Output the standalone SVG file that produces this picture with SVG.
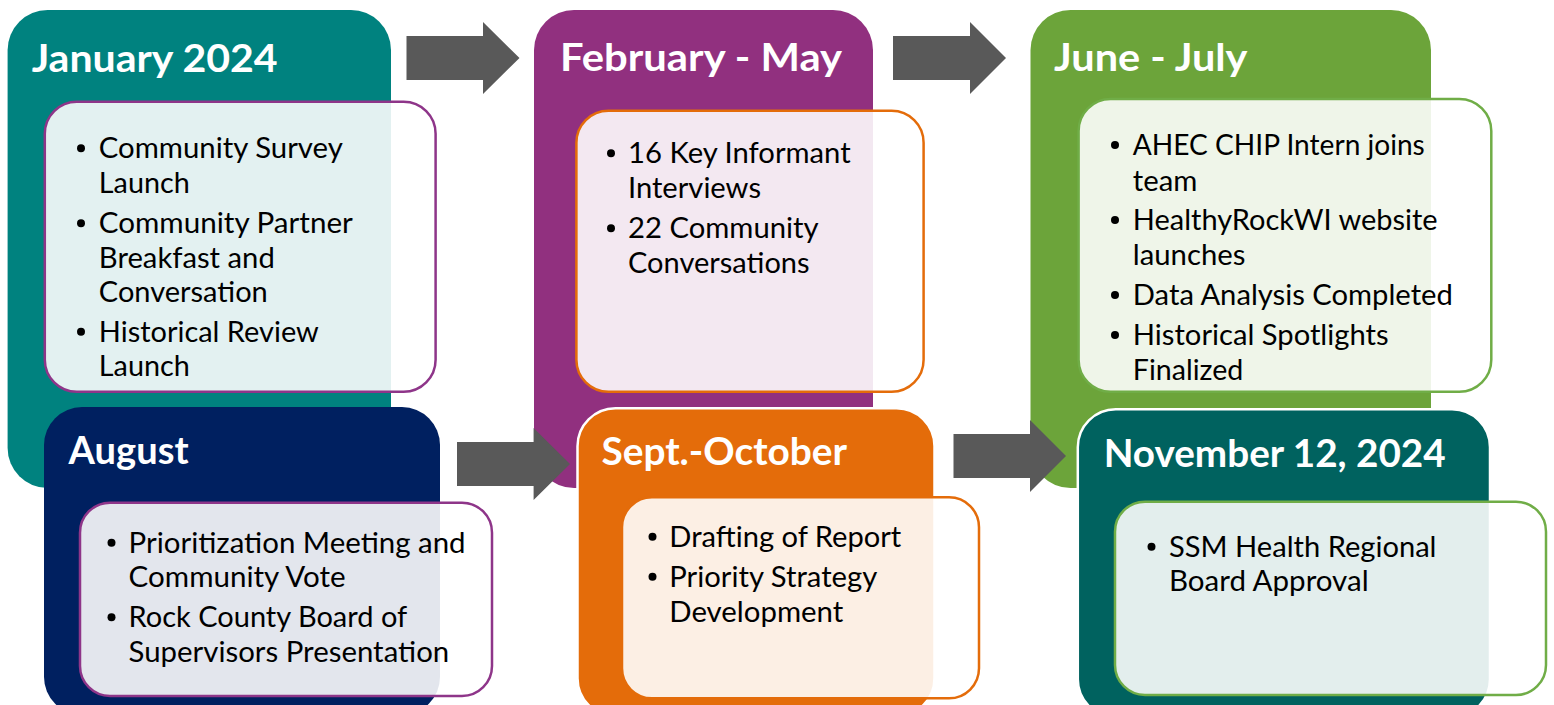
<svg xmlns="http://www.w3.org/2000/svg" width="1554" height="705" viewBox="0 0 1554 705">
<style>
.title{font-family:Lato,"Open Sans","Liberation Sans",sans-serif;font-weight:700;font-size:38px;fill:#ffffff}
.item{font-family:Lato,"Open Sans","Liberation Sans",sans-serif;font-size:29px;fill:#000000}
.inner{fill:#ffffff;fill-opacity:0.89;stroke-width:2.5}
.b-purple{stroke:#8E3589}
.b-orange{stroke:#E46C0A}
.b-green{stroke:#70AD47}
.dot{fill:#000000}
.arrow{fill:#595959}
.outline{stroke:#ffffff;stroke-width:2.5}
</style>
<rect width="1554" height="705" fill="#ffffff"/>

<g id="node-january">
<rect x="7.6" y="10" width="383.4" height="478" rx="40" fill="#00827F"/>
<rect class="inner b-purple" x="44.8" y="101.7" width="390.8" height="290" rx="32"/>
<text class="title" x="31.7" y="71.7" textLength="246" lengthAdjust="spacingAndGlyphs">January 2024</text>
<circle class="dot" cx="81" cy="148.3" r="4"/>
<text class="item" x="98.8" y="158.3" textLength="244" lengthAdjust="spacingAndGlyphs">Community Survey</text>
<text class="item" x="98.8" y="192.7" textLength="91" lengthAdjust="spacingAndGlyphs">Launch</text>
<circle class="dot" cx="81" cy="223.3" r="4"/>
<text class="item" x="98.8" y="233.3" textLength="254" lengthAdjust="spacingAndGlyphs">Community Partner</text>
<text class="item" x="98.8" y="267.7" textLength="176" lengthAdjust="spacingAndGlyphs">Breakfast and</text>
<text class="item" x="98.8" y="301.7" textLength="169" lengthAdjust="spacingAndGlyphs">Conversation</text>
<circle class="dot" cx="81" cy="331.7" r="4"/>
<text class="item" x="98.8" y="341.7" textLength="220" lengthAdjust="spacingAndGlyphs">Historical Review</text>
<text class="item" x="98.8" y="376" textLength="91" lengthAdjust="spacingAndGlyphs">Launch</text>
</g>

<g id="node-february-may">
<rect x="534" y="10" width="339" height="478" rx="40" fill="#91307F"/>
<rect class="inner b-orange" x="576.4" y="110.7" width="347.2" height="281" rx="32"/>
<text class="title" x="560" y="70.7" textLength="282" lengthAdjust="spacingAndGlyphs">February - May</text>
<circle class="dot" cx="611" cy="153.3" r="4"/>
<text class="item" x="628" y="163.3" textLength="222.7" lengthAdjust="spacingAndGlyphs">16 Key Informant</text>
<text class="item" x="628" y="198.3" textLength="133" lengthAdjust="spacingAndGlyphs">Interviews</text>
<circle class="dot" cx="611" cy="228.3" r="4"/>
<text class="item" x="628" y="238.3" textLength="190.6" lengthAdjust="spacingAndGlyphs">22 Community</text>
<text class="item" x="628" y="273.3" textLength="181.6" lengthAdjust="spacingAndGlyphs">Conversations</text>
</g>

<g id="node-june-july">
<rect x="1030.5" y="10" width="400.5" height="478" rx="40" fill="#6CA43A"/>
<rect class="inner b-green" x="1078.6" y="99" width="412.7" height="292.7" rx="32"/>
<text class="title" x="1054" y="70.7" textLength="193.5" lengthAdjust="spacingAndGlyphs">June - July</text>
<circle class="dot" cx="1115" cy="145" r="4"/>
<text class="item" x="1132.8" y="155" textLength="292" lengthAdjust="spacingAndGlyphs">AHEC CHIP Intern joins</text>
<text class="item" x="1132.8" y="190.7" textLength="64.5" lengthAdjust="spacingAndGlyphs">team</text>
<circle class="dot" cx="1115" cy="220" r="4"/>
<text class="item" x="1132.8" y="230" textLength="304.8" lengthAdjust="spacingAndGlyphs">HealthyRockWI website</text>
<text class="item" x="1132.8" y="265" textLength="112.6" lengthAdjust="spacingAndGlyphs">launches</text>
<circle class="dot" cx="1115" cy="295" r="4"/>
<text class="item" x="1132.8" y="305" textLength="320" lengthAdjust="spacingAndGlyphs">Data Analysis Completed</text>
<circle class="dot" cx="1115" cy="335" r="4"/>
<text class="item" x="1132.8" y="345" textLength="255.8" lengthAdjust="spacingAndGlyphs">Historical Spotlights</text>
<text class="item" x="1132.8" y="380" textLength="110.5" lengthAdjust="spacingAndGlyphs">Finalized</text>
</g>

<g id="node-august">
<rect x="44" y="407" width="396" height="308" rx="38" fill="#002060"/>
<rect class="inner b-purple" x="80" y="502.7" width="412" height="193.3" rx="30"/>
<text class="title" x="68.6" y="464" textLength="120" lengthAdjust="spacingAndGlyphs">August</text>
<circle class="dot" cx="111.5" cy="542.7" r="4"/>
<text class="item" x="128.6" y="552.7" textLength="337" lengthAdjust="spacingAndGlyphs">Prioritization Meeting and</text>
<text class="item" x="128.6" y="586.7" textLength="217" lengthAdjust="spacingAndGlyphs">Community Vote</text>
<circle class="dot" cx="111.5" cy="617.3" r="4"/>
<text class="item" x="128.6" y="627.3" textLength="278.6" lengthAdjust="spacingAndGlyphs">Rock County Board of</text>
<text class="item" x="128.6" y="661.7" textLength="320.6" lengthAdjust="spacingAndGlyphs">Supervisors Presentation</text>
</g>

<g id="node-sept-october">
<rect class="outline" x="577.5" y="408.3" width="357" height="308" rx="38" fill="#E46C0A"/>
<rect class="inner b-orange" x="622" y="497.3" width="357" height="201" rx="30"/>
<text class="title" x="601.4" y="465" textLength="245.7" lengthAdjust="spacingAndGlyphs">Sept.-October</text>
<circle class="dot" cx="652.5" cy="536.7" r="4"/>
<text class="item" x="669.3" y="546.7" textLength="232" lengthAdjust="spacingAndGlyphs">Drafting of Report</text>
<circle class="dot" cx="652.5" cy="576.7" r="4"/>
<text class="item" x="669.3" y="586.7" textLength="208" lengthAdjust="spacingAndGlyphs">Priority Strategy</text>
<text class="item" x="669.3" y="621.7" textLength="174" lengthAdjust="spacingAndGlyphs">Development</text>
</g>

<g id="node-november">
<rect class="outline" x="1077.8" y="409.3" width="412.2" height="308" rx="38" fill="#00625F"/>
<rect class="inner b-green" x="1115" y="501.7" width="431" height="193.3" rx="30"/>
<text class="title" x="1103.7" y="467.3" textLength="342" lengthAdjust="spacingAndGlyphs">November 12, 2024</text>
<circle class="dot" cx="1151.5" cy="546.7" r="4"/>
<text class="item" x="1169" y="556.7" textLength="267.5" lengthAdjust="spacingAndGlyphs">SSM Health Regional</text>
<text class="item" x="1169" y="590.7" textLength="199.7" lengthAdjust="spacingAndGlyphs">Board Approval</text>
</g>

<g id="connectors">
<polygon class="arrow" points="406.5,36 483,36 483,22 519.5,58 483,94 483,80 406.5,80"/>
<polygon class="arrow" points="893,36 970,36 970,22 1006,58 970,94 970,80 893,80"/>
<polygon class="arrow" points="457,442 533.6,442 533.6,428 570,464 533.6,500 533.6,486 457,486"/>
<polygon class="arrow" points="953.5,434 1030,434 1030,420 1066,456 1030,492 1030,478 953.5,478"/>
</g>
</svg>
